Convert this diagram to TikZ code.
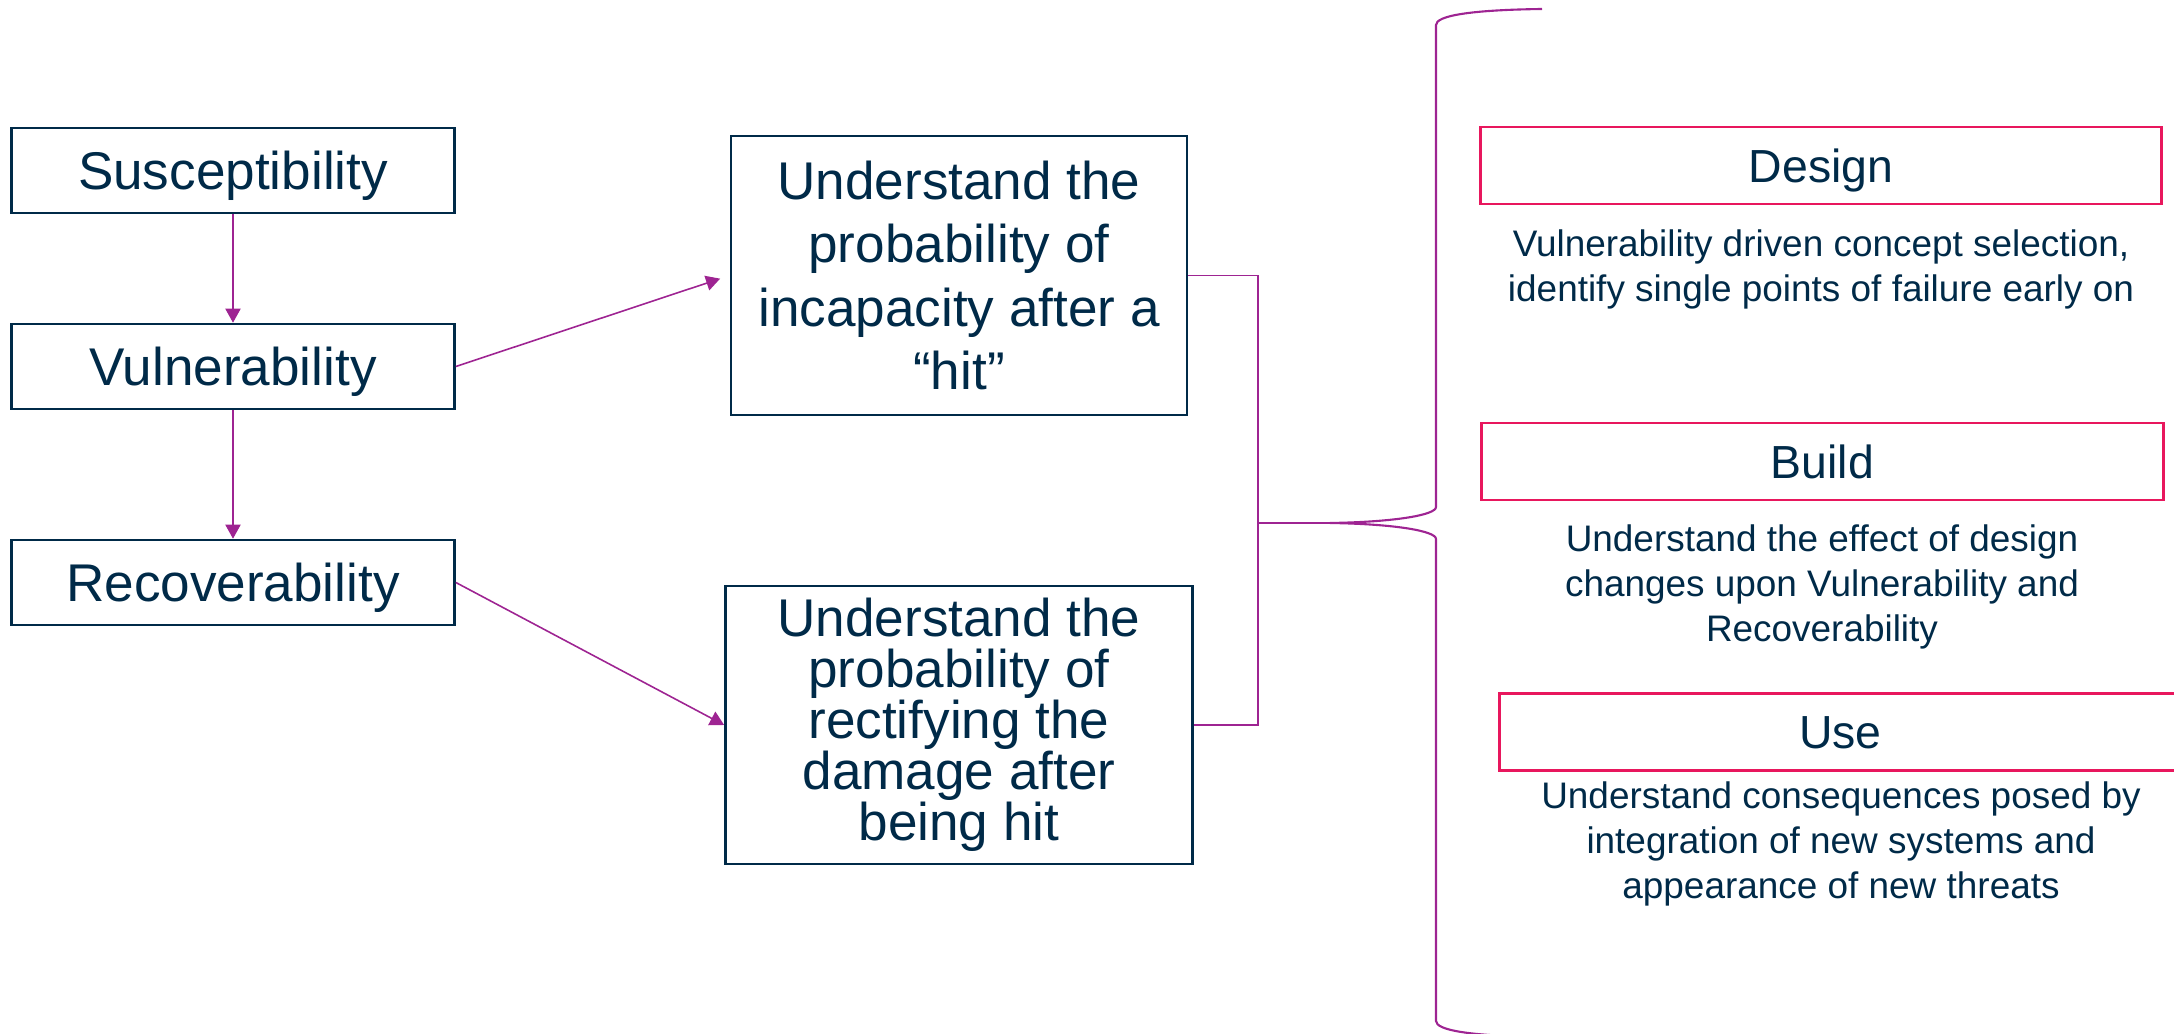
\documentclass[tikz,border=0pt]{standalone}
\usepackage{fontspec}
\setmainfont{Liberation Sans}
\usetikzlibrary{arrows.meta}
\definecolor{navy}{RGB}{0,42,72}
\definecolor{linkpurple}{RGB}{158,36,146}
\definecolor{phasered}{RGB}{232,23,93}
\begin{document}
\begin{tikzpicture}[x=0.01cm,y=-0.01cm,
  every node/.style={text=navy,inner sep=0pt},
  lbox/.style={draw=navy,line width=0.7pt,minimum width=4.43cm,minimum height=0.85cm,text height=14pt,text depth=3.2pt,font=\fontsize{15.1}{18}\selectfont},
  mbox/.style={draw=navy,line width=0.7pt,align=center,font=\fontsize{15.1}{18.1}\selectfont},
  phase/.style={draw=phasered,line width=0.8pt,minimum width=6.81cm,minimum height=0.77cm,text height=12.3pt,text depth=2.8pt,font=\fontsize{13.2}{15}\selectfont},
  note/.style={align=center,font=\fontsize{10.5}{12.8}\selectfont},
  link/.style={linkpurple,line width=0.45pt},
  arr/.style={link,-{Triangle[length=4pt,width=4.3pt]}}]
\useasboundingbox (0,0) rectangle (2174,1034);
\node[lbox] (susc) at (233,170.5) {Susceptibility};
\node[lbox] (vuln) at (233,366.5) {Vulnerability};
\node[lbox] (recov) at (233,582.5) {Recoverability};
\draw[arr] (susc) -- (vuln);
\draw[arr] (vuln) -- (recov);
\node[mbox,minimum width=4.56cm,minimum height=2.79cm] (hit) at (959,275.5) {Understand the\\probability of\\incapacity after a\\“hit”};
\node[mbox,minimum width=4.67cm,minimum height=2.78cm,font=\fontsize{15.1}{14.5}\selectfont] (fix) at (959,725) {Understand the\\probability of\\rectifying the\\damage after\\being hit};
\draw[arr,shorten >=0.1cm] (vuln.east) -- (hit.west);
\draw[arr] (recov.east) -- (fix.west);
% join and brace
\coordinate (join) at (1258,523);
\coordinate (tip) at (1330,523);
\draw[link] (hit.east) -| (join) |- (fix.east);
\draw[link] (join) -- (tip);
\draw[link,line width=0.6pt] (1542,9) .. controls (1468,10) and (1436,16) .. (1436,25) -- (1436,507)
  .. controls (1436,515) and (1395,522) .. (tip) .. controls (1395,524) and (1436,531) .. (1436,539)
  -- (1436,1021) .. controls (1436,1030) and (1468,1036) .. (1542,1037);
% phases
\node[phase] (design) at (1821,165.5) {Design};
\node[note] (designtxt) at (1821,269) {Vulnerability driven concept selection,\\identify single points of failure early on};
\node[phase] (build) at (1822.5,461.5) {Build};
\node[note] (buildtxt) at (1822,587) {Understand the effect of design\\changes upon Vulnerability and\\Recoverability};
\node[phase] (use) at (1840.5,732) {Use};
\node[note] (usetxt) at (1841,844) {Understand consequences posed by\\integration of new systems and\\appearance of new threats};
\end{tikzpicture}
\end{document}
